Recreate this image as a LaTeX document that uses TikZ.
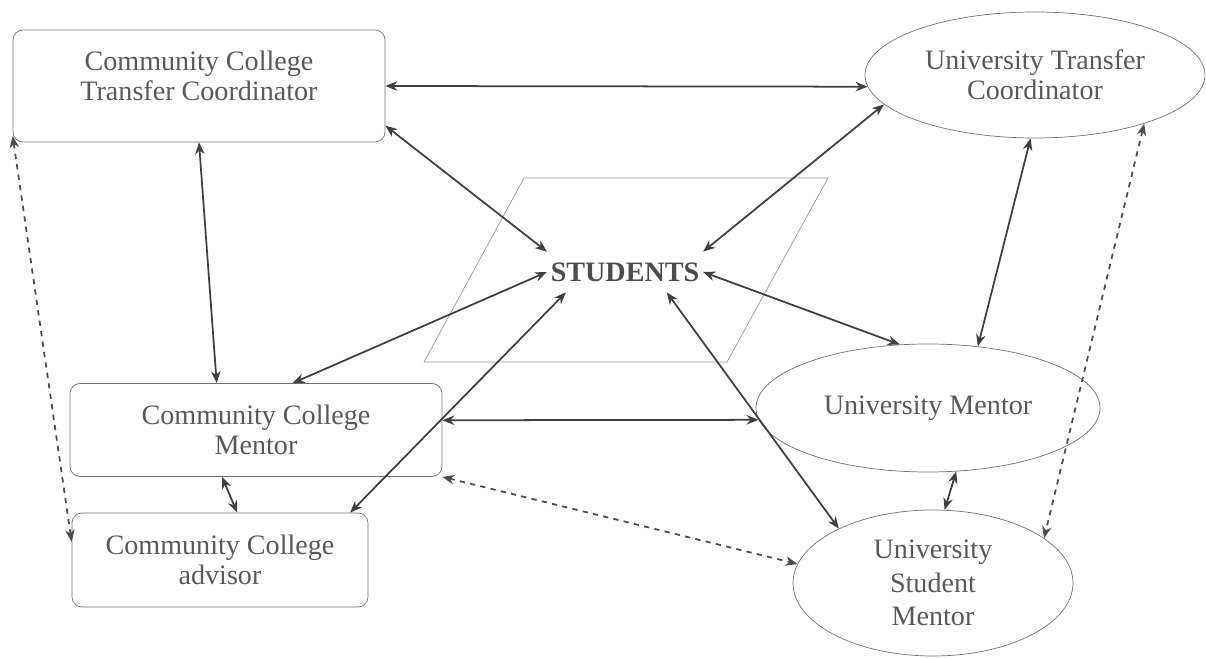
\documentclass[tikz,border=0pt]{standalone}
\usepackage{fontspec}
\setmainfont{Liberation Serif}
\usetikzlibrary{shapes.geometric, arrows.meta}
\tikzstyle{block} = [rectangle, draw=black!55, rounded corners=0.2cm, text centered, align=center, text=black!65, font=\fontsize{16}{17}\selectfont, inner sep=0pt]
\tikzstyle{oval} = [ellipse, draw=black!55, text centered, align=center, text=black!65, font=\fontsize{16}{17}\selectfont, inner sep=0pt]
\tikzstyle{hub} = [text=black!70, font=\fontsize{16}{17}\selectfont\bfseries, inner xsep=2pt, inner ysep=6pt]
\tikzstyle{frame} = [draw=black!40, thin]
\tikzstyle{link} = [line width=1pt, <->, >={Stealth[length=2.4mm, width=1.9mm]}, black!75]
\tikzstyle{loose} = [line width=1pt, dashed, <->, >={Stealth[length=2.4mm, width=1.9mm]}, black!70]

\begin{document}
\begin{tikzpicture}

	\useasboundingbox (0,0) rectangle (24.12,13.16);

	% Community college side
	\node (cctc) [block, minimum width=7.44cm, minimum height=2.24cm] at (3.98,11.44) {Community College\\Transfer Coordinator\\[-5.6pt]\mbox{}};
	\node (ccm) [block, minimum width=7.44cm, minimum height=1.86cm] at (5.12,4.56) {Community College\\Mentor};
	\node (cca) [block, minimum width=5.92cm, minimum height=1.88cm] at (4.40,1.96) {Community College\\advisor};

	% University side
	\node (utc) [oval, minimum width=6.8cm, minimum height=2.52cm] at (20.70,11.66) {University Transfer\\Coordinator};
	\node (um) [oval, minimum width=6.88cm, minimum height=2.56cm] at (18.56,5.00) {University Mentor};
	\node (usm) [oval, minimum width=5.6cm, minimum height=2.92cm] at (18.66,1.50) {University\\[2pt]Student\\[2pt]Mentor};

	% Students
	\draw[frame] (8.48,5.92) -- (10.48,9.60) -- (16.56,9.60) -- (14.54,5.92) -- cycle;
	\node (students) [hub] at (12.50,7.72) {STUDENTS};

	% Arrows - coordinators
	\draw[link] (cctc.east) -- (utc.184);
	\draw[link] (cctc.348) -- (students.north west);
	\draw[link] (utc.191) -- (students.north east);
	\draw[link] (cctc.south) -- (ccm.130);
	\draw[link] (utc.266) -- (um.51);

	% Arrows - mentors
	\draw[link] (students.west) -- (ccm.52);
	\draw[link] (students.199) -- (cca.20);
	\draw[link] (students.east) -- (um.114);
	\draw[link] (students.334) -- (usm.150);
	\draw[link] (ccm.3) -- (um.184);
	\draw[link] (ccm.234) -- (cca.70);
	\draw[link] (um.294) -- (usm.81);

	% Dashed links
	\draw[loose] (cctc.195) -- (cca.173);
	\draw[loose] (utc.336) -- (usm.22);
	\draw[loose] (ccm.south east) -- (usm.172);

\end{tikzpicture}
\end{document}
